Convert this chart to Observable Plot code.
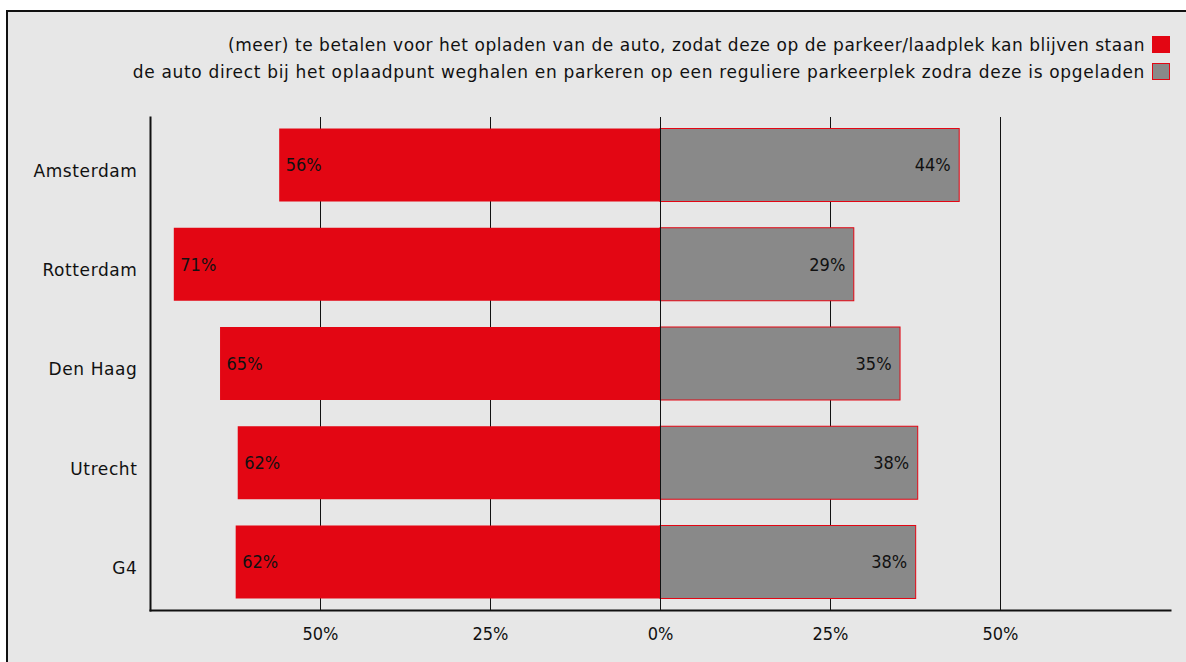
<!DOCTYPE html>
<html><head><meta charset="utf-8">
<script src="https://cdn.jsdelivr.net/npm/d3@7"></script>
<script src="https://cdn.jsdelivr.net/npm/@observablehq/plot@0.6"></script>
<style>
body{margin:0;background:#fff;width:1186px;height:662px;overflow:hidden;position:relative;font-family:"DejaVu Sans",sans-serif;}
#frame{position:absolute;left:6px;top:10px;width:1300px;height:800px;border-left:2px solid #111;border-top:2px solid #111;background:#e7e7e7;}
#legend{position:absolute;right:16px;top:31px;font-size:17px;color:#111;}
.row{display:flex;justify-content:flex-end;align-items:center;height:27px;white-space:nowrap;}
.row:nth-child(1) span:first-child{letter-spacing:0.54px;}
.row:nth-child(2) span:first-child{letter-spacing:0.68px;}
.sw{width:18px;height:17px;margin-left:7px;box-sizing:border-box;border:1px solid #e30613;}
#chart{position:absolute;left:0;top:0;}
.ylab text{letter-spacing:0.6px;}
</style></head>
<body>
<div id="frame"></div>
<div id="legend"></div>
<div id="chart"></div>
<script>
const cities = ["Amsterdam", "Rotterdam", "Den Haag", "Utrecht", "G4"];
const payShares = [56, 71.5, 64.7, 62.1, 62.4];
const moveShares = [44, 28.5, 35.3, 37.9, 37.6];
const payLabels = ["56%", "71%", "65%", "62%", "62%"];
const moveLabels = ["44%", "29%", "35%", "38%", "38%"];
const xTicks = [-50, -25, 0, 25, 50];
const xTickLabels = ["50%", "25%", "0%", "25%", "50%"];
const seriesNames = [
  "(meer) te betalen voor het opladen van de auto, zodat deze op de parkeer/laadplek kan blijven staan",
  "de auto direct bij het oplaadpunt weghalen en parkeren op een reguliere parkeerplek zodra deze is opgeladen"
];
const seriesColors = ["#e30613", "#898989"];

const legend = document.getElementById("legend");
seriesNames.forEach((name, i) => {
  const row = document.createElement("div");
  row.className = "row";
  const t = document.createElement("span");
  t.textContent = name;
  const sw = document.createElement("span");
  sw.className = "sw";
  sw.style.background = seriesColors[i];
  row.appendChild(t); row.appendChild(sw);
  legend.appendChild(row);
});

const pay = cities.map((c, i) => ({city: c, v: payShares[i], label: payLabels[i]}));
const move = cities.map((c, i) => ({city: c, v: moveShares[i], label: moveLabels[i]}));
const condensed = '"DejaVu Sans Condensed","DejaVu Sans",sans-serif';

const chart = Plot.plot({
  width: 1186,
  height: 662,
  marginTop: 117,
  marginBottom: 52,
  marginLeft: 150,
  marginRight: 16,
  style: {background: "transparent", fontFamily: '"DejaVu Sans",sans-serif', fontSize: "17px", color: "#111"},
  x: {domain: [-75, 75]},
  y: {domain: cities, paddingInner: 0.2645, paddingOuter: 0.116, round: false},
  marks: [
    Plot.ruleX(xTicks.filter(d => d !== 0), {stroke: "#111", strokeWidth: 1, strokeOpacity: 1}),
    Plot.barX(pay, {x1: 0, x2: d => -d.v, y: "city", fill: seriesColors[0]}),
    Plot.barX(move, {x1: 0, x2: "v", y: "city", fill: seriesColors[1], stroke: seriesColors[0], strokeWidth: 1}),
    Plot.ruleX([0], {stroke: "#111", strokeWidth: 1}),
    Plot.frame({anchor: "left", stroke: "#111", strokeWidth: 2}),
    Plot.frame({anchor: "bottom", stroke: "#111", strokeWidth: 2}),
    Plot.text(pay, {x: d => -d.v, y: "city", text: "label", textAnchor: "start", dx: 6, fontSize: 18, fontFamily: condensed, fill: "#111"}),
    Plot.text(move, {x: "v", y: "city", text: "label", textAnchor: "end", dx: -9, fontSize: 18, fontFamily: condensed, fill: "#111"}),
    Plot.axisX({ticks: xTicks, tickFormat: d => xTickLabels[xTicks.indexOf(d)], tickSize: 0, tickPadding: 17, label: null, fontSize: 18, fontFamily: condensed}),
    Plot.axisY({tickSize: 0, tickPadding: 13, dy: 6, label: null, fontSize: 17, className: "ylab"})
  ]
});
document.getElementById("chart").appendChild(chart);
</script>
</body></html>
